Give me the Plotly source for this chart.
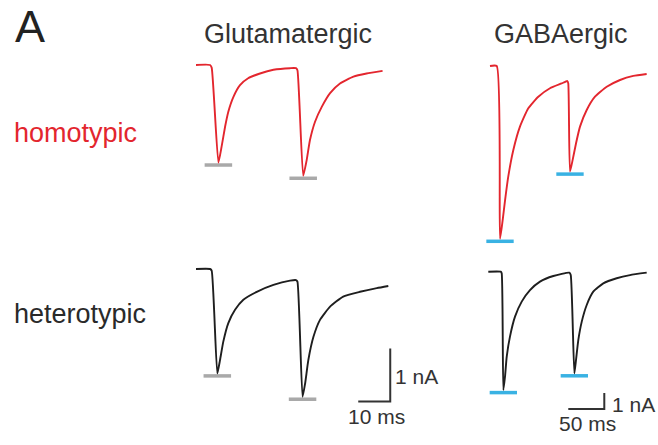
import plotly.graph_objects as go

W, H = 658, 445

# ---------------- data (time in ms, current in nA) ----------------
# Glutamatergic, homotypic (red)
glu_homo_t = [0, 4.4, 4.9, 7.0, 8.0, 9.1, 10.1, 11.7, 13.75, 16.3, 20.0, 24.2, 29.4, 31.25,
              31.7, 33.5, 34.6, 35.6, 37.2, 39.3, 41.9, 45.0, 49.2, 53.3, 58.3]
glu_homo_i = [0, 0, -0.05, -1.84, -1.54, -1.16, -0.88, -0.60, -0.38, -0.25, -0.16, -0.09, -0.06, -0.06,
              -0.10, -2.09, -1.79, -1.42, -1.07, -0.79, -0.53, -0.35, -0.22, -0.16, -0.11]

# Glutamatergic, heterotypic (black)
glu_hetero_t = [0, 4.4, 4.9, 6.66, 7.5, 8.53, 10.1, 12.2, 14.8, 19.0, 24.2, 29.4, 31.25,
                31.7, 33.3, 34.1, 35.1, 36.7, 38.75, 41.9, 46.0, 51.25, 56.5, 60.1]
glu_hetero_i = [0, 0, -0.03, -1.97, -1.72, -1.37, -1.02, -0.77, -0.58, -0.43, -0.30, -0.22, -0.21,
                -0.24, -2.41, -2.16, -1.72, -1.28, -0.96, -0.71, -0.52, -0.43, -0.36, -0.32]

# GABAergic, homotypic (red)
gaba_homo_t = [0, 9.35, 13.9, 17.7, 20.9, 25.4, 32.4, 41.6, 53.2, 67.1, 83.3, 99.5, 107.4,
               108.7, 111.1, 114.8, 119.5, 125.0, 134.3, 145.8, 162.1, 180.6, 199.0, 217.6]
gaba_homo_i = [0, 0, -10.8, -9.6, -8.4, -6.9, -5.25, -3.79, -2.64, -1.92, -1.39, -1.09, -0.94,
               -1.09, -6.6, -5.87, -4.83, -3.79, -2.75, -1.92, -1.30, -0.875, -0.62, -0.50]

# GABAergic, heterotypic (black)
gaba_hetero_t = [0, 17.2, 18.6, 20.9, 23.2, 25.6, 30.1, 37.1, 46.4, 57.9, 71.8, 90.3, 112.5,
                 114.5, 119.5, 121.8, 125.0, 129.8, 136.7, 145.8, 159.7, 178.3, 196.8, 220.0]
gaba_hetero_i = [0, 0, -0.1, -7.4, -6.56, -5.31, -4.06, -2.81, -1.87, -1.15, -0.62, -0.27, -0.06,
                 -0.21, -6.35, -5.52, -4.27, -3.12, -2.08, -1.25, -0.73, -0.41, -0.21, -0.06]

column_titles = ["Glutamatergic", "GABAergic"]
row_labels = ["homotypic", "heterotypic"]
scale_glu = [10, 1]    # ms, nA
scale_gaba = [50, 1]   # ms, nA
scale_glu_label = ["10 ms", "1 nA"]
scale_gaba_label = ["50 ms", "1 nA"]

# ---------------- styles ----------------
RED = "#e3262e"
BLACK = "#1e1e1e"
GRAY_BAR = "#a9a9a9"
BLUE_BAR = "#39b2e3"
FONT = "Arial, Liberation Sans, sans-serif"

# panel geometry: (x px range, y px range, origin px (x,y), px per ms, px per nA)
panels = {
    "glu_homo":    dict(px=(190, 400), py=(45, 200),  o=(196, 65),      sx=3.2,  sy=53),
    "glu_hetero":  dict(px=(190, 400), py=(250, 432), o=(196, 269),     sx=3.2,  sy=53),
    "gaba_homo":   dict(px=(480, 658), py=(45, 252),  o=(490, 66),      sx=0.72, sy=16),
    "gaba_hetero": dict(px=(480, 658), py=(255, 440), o=(488.3, 271.7), sx=0.72, sy=16),
}

fig = go.Figure()
layout_axes = {}


def add_axes(idx, p):
    (x0, x1), (y0, y1), (ox, oy) = p["px"], p["py"], p["o"]
    sx, sy = p["sx"], p["sy"]
    xn = "xaxis" if idx == 1 else f"xaxis{idx}"
    yn = "yaxis" if idx == 1 else f"yaxis{idx}"
    layout_axes[xn] = dict(domain=[x0 / W, x1 / W], range=[(x0 - ox) / sx, (x1 - ox) / sx],
                           visible=False, anchor=f"y{'' if idx == 1 else idx}", fixedrange=True)
    layout_axes[yn] = dict(domain=[1 - y1 / H, 1 - y0 / H], range=[-(y1 - oy) / sy, -(y0 - oy) / sy],
                           visible=False, anchor=f"x{'' if idx == 1 else idx}", fixedrange=True)
    return ("x" if idx == 1 else f"x{idx}"), ("y" if idx == 1 else f"y{idx}")


def troughs(t, i):
    mn = min(i)
    out = []
    for k in range(1, len(i) - 1):
        if i[k] < i[k - 1] and i[k] < i[k + 1] and i[k] < 0.5 * mn:
            out.append((t[k], i[k]))
    return out


specs = [
    ("glu_homo", glu_homo_t, glu_homo_i, RED, GRAY_BAR, 4.3),
    ("glu_hetero", glu_hetero_t, glu_hetero_i, BLACK, GRAY_BAR, 4.3),
    ("gaba_homo", gaba_homo_t, gaba_homo_i, RED, BLUE_BAR, 19.0),
    ("gaba_hetero", gaba_hetero_t, gaba_hetero_i, BLACK, BLUE_BAR, 19.0),
]

axes_ids = {}
for n, (key, t, i, col, barcol, hw) in enumerate(specs, start=1):
    p = panels[key]
    xa, ya = add_axes(n, p)
    axes_ids[key] = (xa, ya)
    off = 2.5 / p["sy"]
    for (tt, ii) in troughs(t, i):
        fig.add_trace(go.Scatter(x=[tt - hw, tt + hw], y=[ii - off, ii - off], mode="lines",
                                 line=dict(color=barcol, width=3.5), xaxis=xa, yaxis=ya,
                                 hoverinfo="skip", showlegend=False))
    fig.add_trace(go.Scatter(x=t, y=i, mode="lines",
                             line=dict(color=col, width=1.9, shape="spline", smoothing=0.5),
                             xaxis=xa, yaxis=ya, showlegend=False))

# scale bars
def scale_bar(key, x0, y0, sb):
    xa, ya = axes_ids[key]
    fig.add_trace(go.Scatter(x=[x0, x0 + sb[0], x0 + sb[0]], y=[y0, y0, y0 + sb[1]], mode="lines",
                             line=dict(color="#333333", width=2), xaxis=xa, yaxis=ya,
                             hoverinfo="skip", showlegend=False))

scale_bar("glu_hetero", 50.7, -2.50, scale_glu)
scale_bar("gaba_hetero", 111.1, -8.58, scale_gaba)

ann = []
def text(s, x, y, size, color="#333333", xanchor="left"):
    ann.append(dict(text=s, x=x / W, y=1 - y / H, xref="paper", yref="paper", showarrow=False,
                    xanchor=xanchor, yanchor="middle", font=dict(family=FONT, size=size, color=color)))

text("A", 13, 27, 45, "#222222")
text(column_titles[0], 287.5, 34, 27, "#333333", "center")
text(column_titles[1], 561, 34, 27, "#333333", "center")
text(row_labels[0], 12, 133, 27, RED)
text(row_labels[1], 12, 314, 27, "#2a2a2a")
text(scale_glu_label[1], 393, 376, 21)
text(scale_glu_label[0], 346, 416, 21)
text(scale_gaba_label[1], 610, 404.5, 21)
text(scale_gaba_label[0], 557, 423, 21)

fig.update_layout(width=W, height=H, margin=dict(l=0, r=0, t=0, b=0),
                  paper_bgcolor="white", plot_bgcolor="rgba(0,0,0,0)",
                  annotations=ann, **layout_axes)

fig.write_html("out.html", config={"displayModeBar": False, "staticPlot": True})

# remove the browser's default page margin so the figure sits at the window origin
with open("out.html", "r", encoding="utf-8") as f:
    html = f.read()
html = html.replace("<head>", "<head><style>html,body{margin:0;padding:0;overflow:hidden;}</style>", 1)
with open("out.html", "w", encoding="utf-8") as f:
    f.write(html)
